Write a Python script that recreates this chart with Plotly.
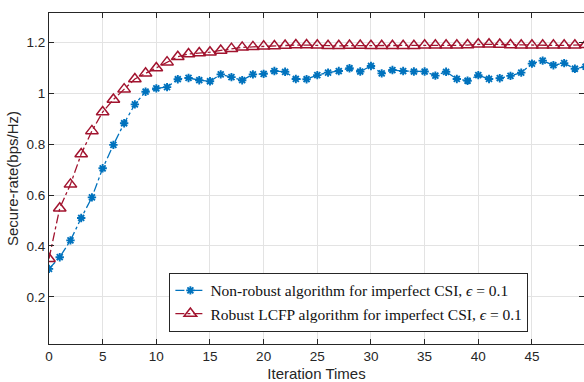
import plotly.graph_objects as go

iterations = list(range(0, 51))

robust_rate = [0.350, 0.548, 0.642, 0.761, 0.852, 0.926, 0.975, 1.016, 1.056, 1.078,
               1.099, 1.122, 1.143, 1.154, 1.158, 1.161, 1.168, 1.175, 1.180, 1.182,
               1.184, 1.185, 1.187, 1.189, 1.189, 1.188, 1.186, 1.186, 1.187, 1.187,
               1.186, 1.186, 1.186, 1.186, 1.186, 1.188, 1.188, 1.188, 1.188, 1.189,
               1.192, 1.192, 1.191, 1.189, 1.188, 1.188, 1.188, 1.188, 1.188, 1.188,
               1.190]

nonrobust_rate = [0.310, 0.356, 0.422, 0.510, 0.591, 0.705, 0.797, 0.882, 0.956, 1.006,
                  1.019, 1.024, 1.055, 1.060, 1.051, 1.047, 1.074, 1.063, 1.051, 1.074,
                  1.076, 1.087, 1.084, 1.056, 1.055, 1.071, 1.081, 1.087, 1.098, 1.085,
                  1.107, 1.078, 1.091, 1.087, 1.085, 1.085, 1.069, 1.084, 1.056, 1.049,
                  1.071, 1.056, 1.059, 1.068, 1.081, 1.116, 1.128, 1.110, 1.118, 1.096,
                  1.104]

x_ticks = [0, 5, 10, 15, 20, 25, 30, 35, 40, 45]
y_ticks = [0.2, 0.4, 0.6, 0.8, 1.0, 1.2]
y_ticklabels = ["0.2", "0.4", "0.6", "0.8", "1", "1.2"]

blue = "#0072BD"
red = "#A2142F"

fig = go.Figure()
fig.add_trace(go.Scatter(
    x=iterations, y=nonrobust_rate, mode="lines+markers",
    name="Non-robust algorithm for imperfect CSI, <i>ϵ</i> = 0.1",
    line=dict(color=blue, width=1.3, dash="dashdot"),
    marker=dict(symbol="asterisk-open", size=7, color=blue,
                line=dict(color=blue, width=1.9)),
))
fig.add_trace(go.Scatter(
    x=iterations, y=robust_rate, mode="lines+markers",
    name="Robust LCFP algorithm for imperfect CSI, <i>ϵ</i> = 0.1",
    line=dict(color=red, width=1.3, dash="dashdot"),
    marker=dict(symbol="triangle-up-open", size=11, color=red,
                line=dict(color=red, width=1.5)),
))

axis_common = dict(
    showgrid=True, gridcolor="#e3e3e3", gridwidth=1,
    zeroline=False, showline=True, linecolor="#262626", linewidth=1,
    mirror="ticks", ticks="inside", ticklen=5, tickcolor="#262626",
    tickfont=dict(family="Liberation Sans, Arial, sans-serif", size=13.5, color="#262626"),
)

fig.update_xaxes(
    range=[0, 49.85], tickmode="array", tickvals=x_ticks,
    title=dict(text="Iteration Times", standoff=6,
               font=dict(family="Liberation Sans, Arial, sans-serif", size=15, color="#262626")),
    **axis_common,
)
fig.update_yaxes(
    range=[0.015, 1.315], tickmode="array", tickvals=y_ticks, ticktext=y_ticklabels,
    title=dict(text="Secure-rate(bps/Hz)", standoff=4,
               font=dict(family="Liberation Sans, Arial, sans-serif", size=15, color="#262626")),
    **axis_common,
)

fig.update_layout(
    width=584, height=382,
    margin=dict(l=49, r=0, t=13, b=38),
    paper_bgcolor="white", plot_bgcolor="white",
    showlegend=True,
    legend=dict(
        x=0.225, y=0.215, xanchor="left", yanchor="top",
        bgcolor="white", bordercolor="#262626", borderwidth=1,
        font=dict(family="Liberation Serif, Times New Roman, serif", size=15.5, color="#111111"),
        tracegroupgap=0, itemwidth=30,
    ),
)

fig.write_html("out.html")
